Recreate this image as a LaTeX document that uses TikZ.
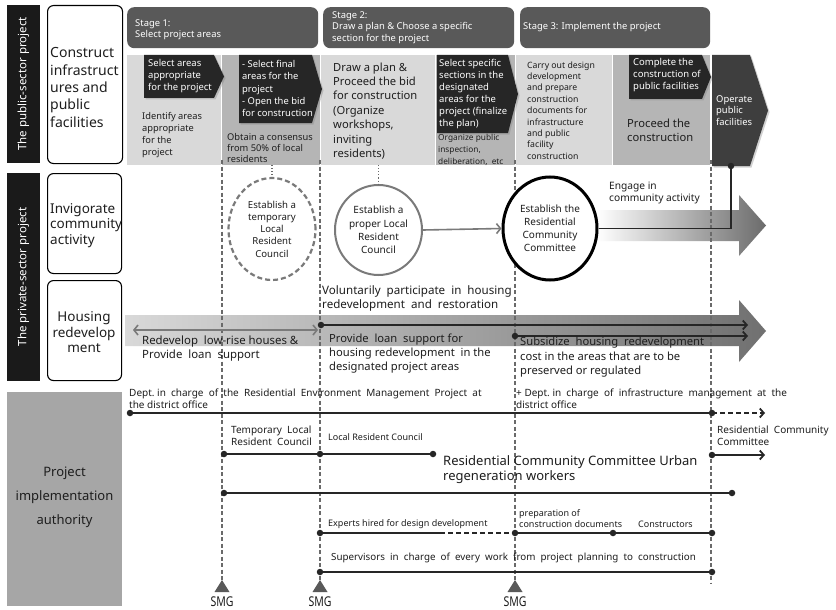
\documentclass[tikz,border=0pt]{standalone}
\usepackage{fontspec}
\setmainfont{Noto Sans}
\usetikzlibrary{arrows.meta,shapes.geometric,shadows}
\newcommand{\fz}[2]{\fontsize{#1}{#2}\selectfont}
\definecolor{barblack}{HTML}{1A1A1A}
\definecolor{stagegray}{HTML}{595959}
\definecolor{panellight}{HTML}{D9D9D9}
\definecolor{panelmid}{HTML}{B5B5B5}
\definecolor{arrowdark}{HTML}{262626}
\definecolor{opdark}{HTML}{3E3E3E}
\definecolor{authgray}{HTML}{A6A6A6}
\definecolor{dashgray}{HTML}{6A6A6A}
\definecolor{linegray}{HTML}{7A7A7A}
\definecolor{txt}{HTML}{1E1E1E}
\begin{document}
\begin{tikzpicture}[x=1pt,y=-1pt,
 every node/.style={inner sep=0pt},
 lbl/.style={anchor=west, align=left, text=txt},
 wlbl/.style={anchor=west, align=left, text=white},
 darr/.style={fill=arrowdark, drop shadow={opacity=0.35,shadow xshift=1.5pt,shadow yshift=-1.5pt}},
 sidebox/.style={draw=black, line width=1.1pt, rounded corners=6pt, fill=white, anchor=north west},
 stagebox/.style={fill=stagegray, rounded corners=7pt, anchor=north west},
 vbar/.style={fill=barblack, text=white, rotate=90, font=\bfseries\fz{11.5}{14}},
 vdash/.style={dashgray, line width=1.1pt, dash pattern=on 4pt off 2.5pt},
 dotc/.style={circle, fill=black!85, minimum size=6.5pt, inner sep=0pt},
 bline/.style={black!85, line width=1.8pt},
 tip/.style={-{Straight Barb[length=4pt,width=9pt]}},
 smg/.style={font=\fz{13.5}{15}, text=txt},
 tri/.style={fill=stagegray},
]
\useasboundingbox (0,0) rectangle (836,610);
\fill[white] (0,0) rectangle (836,610);

% ---------- left labels ----------
\node[vbar, minimum width=158pt, minimum height=33pt] (pub) at (23.5,84) {The public-sector project};
\node[vbar, minimum width=208pt, minimum height=33pt] (priv) at (23.5,277) {The private-sector project};
\node[sidebox, minimum width=75pt, minimum height=158pt] (bconst) at (47,5) {};
\node[lbl, font=\fz{14}{17.3}] (tconst) at (50,87.5) {Construct\\infrastruct\\ures and\\public\\facilities};
\node[sidebox, minimum width=74pt, minimum height=100pt] (binv) at (47,173) {};
\node[lbl, font=\fz{13.5}{15.5}] (tinv) at (50,225.5) {Invigorate\\community\\activity};
\node[sidebox, minimum width=74pt, minimum height=100pt] (bhou) at (47,280) {};
\node[align=center, text=txt, font=\fz{13.5}{15.5}] (thou) at (84,332.5) {Housing\\redevelop\\ment};
\node[fill=authgray, minimum width=115pt, minimum height=214pt, anchor=north west] (bauth) at (7,392) {};
\node[align=center, text=txt, font=\fz{13}{24}] (tauth) at (64.5,497) {Project\\implementation\\authority};

% ---------- stage headers ----------
\node[stagebox, minimum width=191pt, minimum height=41pt] (s1) at (127,7) {};
\node[stagebox, minimum width=191pt, minimum height=41pt] (s2) at (323,7) {};
\node[stagebox, minimum width=190pt, minimum height=41pt] (s3) at (520,7) {};
\node[wlbl, font=\bfseries\fz{9.4}{11}] (ts1) at (135,30) {Stage 1:\\Select project areas};
\node[wlbl, font=\bfseries\fz{9.4}{11.5}] (ts2) at (332,27.5) {Stage 2:\\Draw a plan \& Choose a specific\\section for the project};
\node[wlbl, font=\bfseries\fz{9.4}{11}] (ts3) at (523,27) {Stage 3: Implement the project};

% ---------- panels ----------
\fill[panellight] (127,55) rectangle (221,165);
\fill[panelmid] (222,55) rectangle (320,165);
\fill[panellight] (321,55) rectangle (435,165);
\fill[panelmid] (436,55) rectangle (515,165);
\fill[panellight] (516,55) rectangle (612,165);
\fill[panelmid] (613,55) rectangle (710,165);

\path[darr] (144,55) -- (214,55) -- (224,76.5) -- (214,98) -- (144,98) -- cycle;
\path[darr] (239,55) -- (312,55) -- (322,89) -- (312,123) -- (239,123) -- cycle;
\path[darr] (437,55) -- (508,55) -- (518,94) -- (508,133) -- (437,133) -- cycle;
\path[darr] (629,55) -- (702,55) -- (711,77) -- (702,99) -- (629,99) -- cycle;
\path[fill=opdark, drop shadow={opacity=0.35,shadow xshift=1.5pt,shadow yshift=-1.5pt}] (712,55) -- (750,55) -- (768,110.5) -- (750,166) -- (712,166) -- cycle;

\node[wlbl, font=\fz{9.5}{12}] (ta1) at (148,76.5) {Select areas\\appropriate\\for the project};
\node[lbl, font=\fz{9.3}{12}] (tp1) at (142,135.5) {Identify areas\\appropriate\\for the\\project};
\node[wlbl, font=\fz{9.4}{12.2}] (ta2) at (242,88.5) {- Select final\\areas for the\\project\\- Open the bid\\for construction};
\node[lbl, font=\fz{9.3}{11.3}] (tp2) at (227,148) {Obtain a consensus\\from 50\% of local\\residents};
\node[lbl, font=\fz{11.2}{14.4}] (tp3) at (333,111) {Draw a plan \&\\Proceed the bid\\for construction\\(Organize\\workshops,\\inviting\\residents)};
\node[wlbl, font=\fz{9.5}{12}] (ta4) at (439,94) {Select specific\\sections in the\\designated\\areas for the\\project (finalize\\the plan)};
\node[lbl, font=\bfseries\fz{8.3}{12}] (tp4) at (438,150) {Organize public\\inspection,\\deliberation,\ \ etc};
\node[lbl, font=\bfseries\fz{8.7}{11.4}] (tp5) at (527,110.5) {Carry out design\\development\\and prepare\\construction\\documents for\\infrastructure\\and public\\facility\\construction};
\node[wlbl, font=\fz{9.5}{12}] (ta6) at (633,75) {Complete the\\construction of\\public facilities};
\node[lbl, font=\fz{11.2}{14}] (tp6) at (627,130) {Proceed the\\construction};
\node[wlbl, font=\fz{9.4}{11.6}] (top) at (716,110.5) {Operate\\public\\facilities};

% ---------- shaded arrows ----------
\shade[left color=white, right color=black!58] (597,210) -- (739,210) -- (739,195) -- (766,225.5) -- (739,256) -- (739,241) -- (597,241) -- cycle;
\shade[left color=black!15, right color=black!56] (125,315) -- (739,315) -- (739,300) -- (766,331) -- (739,362) -- (739,346) -- (125,346) -- cycle;

% ---------- vertical dashed lines ----------
\coordinate (v1t) at (222,160); \coordinate (v1b) at (222,581);
\coordinate (v2t) at (320,160); \coordinate (v2b) at (320,581);
\coordinate (v3t) at (515,160); \coordinate (v3b) at (515,581);
\coordinate (v4t) at (711,160); \coordinate (v4b) at (711,584);
\draw[vdash] (v1t) -- (v1b);
\draw[vdash] (v2t) -- (v2b);
\draw[vdash] (v3t) -- (v3b);
\draw[vdash] (v4t) -- (v4b);
\fill[tri] (222,580) -- (229.5,592) -- (214.5,592) -- cycle;
\fill[tri] (320,580) -- (327.5,592) -- (312.5,592) -- cycle;
\fill[tri] (515,580) -- (522.5,592) -- (507.5,592) -- cycle;
\node[smg] (smg1) at (222,602) {\scalebox{0.78}[1]{SMG}};
\node[smg] (smg2) at (320,602) {\scalebox{0.78}[1]{SMG}};
\node[smg] (smg3) at (515,602) {\scalebox{0.78}[1]{SMG}};

% ---------- circles ----------
\node[ellipse, draw=linegray, line width=2.2pt, dash pattern=on 5pt off 3pt, fill=white, minimum width=87pt, minimum height=102pt, align=center, text=txt, font=\fz{9.6}{12.3}] (c1) at (272,229) {Establish a\\temporary\\Local\\Resident\\Council};
\node[ellipse, draw=linegray, line width=2pt, fill=white, minimum width=87pt, minimum height=90pt, align=center, text=txt, font=\fz{10}{13.3}] (c2) at (378.5,230) {Establish a\\proper Local\\Resident\\Council};
\node[ellipse, draw=black, line width=3pt, fill=white, minimum width=94pt, minimum height=103pt, align=center, text=txt, font=\fz{10}{13}] (c3) at (550,228.5) {Establish the\\Residential\\Community\\Committee};
\coordinate (p1b) at (272,165);
\coordinate (p2b) at (378.5,165);
\draw[dashgray, line width=1.1pt, dotted] (p1b) -- (c1.north);
\draw[dashgray, line width=1.1pt, dotted] (p2b) -- (c2.north);
\draw[linegray, line width=1.6pt, -{Straight Barb[length=4pt,width=10pt]}] (c2.east) -- (c3.west);

\node[dotc] (opd) at (731,166) {};
\draw[bline] (c3.east) -| (opd.center);
\node[lbl, font=\fz{10.2}{12}] (teng) at (609,193) {Engage in\\community activity};

% ---------- housing ----------
\coordinate (g1) at (133,330); \coordinate (g2) at (318,330);
\draw[linegray, line width=1.6pt, {Straight Barb[length=4pt,width=10pt]}-{Straight Barb[length=4pt,width=10pt]}] (g1) -- (g2);
\node[dotc] (h1) at (321,325) {};
\node[dotc] (h2) at (515,336) {};
\coordinate (h1e) at (748,325); \coordinate (h2e) at (748,336);
\draw[bline, tip] (h1.center) -- (h1e);
\draw[bline, tip] (h2.center) -- (h2e);
\node[lbl, font=\fz{11.6}{14}] (tvol) at (322,298) {Voluntarily\ \ participate\ \ in\ \ housing\\redevelopment\ \ and\ \ restoration};
\node[lbl, font=\fz{11.4}{14}] (tred) at (142,349) {Redevelop\ \ low-rise houses \&\\Provide\ \ loan\ \ support};
\node[lbl, font=\fz{11.2}{14}] (tloan) at (329,354) {Provide\ \ loan\ \ support for\\housing redevelopment\ \ in the\\designated project areas};
\node[lbl, font=\fz{11.2}{14.5}] (tsub) at (520,357.5) {Subsidize\ \ housing\ \ redevelopment\\cost in the areas that are to be\\preserved or regulated};

% ---------- implementation authority lines ----------
\node[lbl, font=\fz{10}{12}] (tdept) at (129,399) {Dept.\ in\ \ charge\ \ of\ \ the\ \ Residential\ \ Environment\ \ Management\ \ Project\ \ at\\the district office};
\node[lbl, font=\fz{10}{12}] (tdept2) at (516,399) {+ Dept.\ in\ \ charge\ \ of\ \ infrastructure\ \ management\ \ at\ \ the\\district office};
\node[dotc] (l1a) at (130,413) {};
\node[dotc] (l1b) at (712,413) {};
\coordinate (l1c) at (765,413);
\draw[bline] (l1a.center) -- (l1b.center);
\draw[bline, dash pattern=on 5pt off 3pt, tip] (l1b.center) -- (l1c);

\node[lbl, font=\fz{10}{12}] (trcc) at (717,436) {Residential\ \ Community\\Committee};
\node[dotc] (l2d) at (712,455) {};
\coordinate (l2e) at (765,455);
\draw[bline, tip] (l2d.center) -- (l2e);

\node[lbl, font=\fz{10}{12}] (ttlrc) at (231,436) {Temporary\ \ Local\\Resident\ \ Council};
\node[lbl, font=\fz{9}{11}] (tlrc) at (328,437) {Local Resident Council};
\node[dotc] (l2a) at (224,454) {};
\node[dotc] (l2b) at (320,454) {};
\node[dotc] (l2c) at (433,454) {};
\draw[bline] (l2a.center) -- (l2c.center);

\node[lbl, font=\fz{13}{15.5}] (turban) at (443,469.5) {Residential Community Committee Urban\\regeneration workers};
\node[dotc] (l3a) at (224,493) {};
\node[dotc] (l3b) at (732,493) {};
\draw[bline] (l3a.center) -- (l3b.center);

\node[lbl, font=\fz{9}{11}] (texp) at (328,524) {Experts hired for design development};
\node[lbl, font=\fz{9}{11.5}] (tprep) at (519,518.5) {preparation of\\construction documents};
\node[lbl, font=\fz{9}{11}] (tcons) at (638,524) {Constructors};
\node[dotc] (l4a) at (320,533) {};
\coordinate (l4m) at (440,533);
\node[dotc] (l4b) at (515,533) {};
\node[dotc] (l4c) at (613,533) {};
\node[dotc] (l4d) at (712,533) {};
\draw[bline] (l4a.center) -- (l4m);
\draw[bline, dash pattern=on 5pt off 3pt] (l4m) -- (l4b.center);
\draw[bline] (l4b.center) -- (l4d.center);

\node[lbl, font=\fz{9.8}{12}] (tsup) at (331,558) {Supervisors\ \ in\ \ charge\ \ of\ \ every\ \ work\ \ from\ \ project\ \ planning\ \ to\ \ construction};
\node[dotc] (l5a) at (320,572) {};
\node[dotc] (l5b) at (712,572) {};
\draw[bline] (l5a.center) -- (l5b.center);
\end{tikzpicture}
\end{document}
